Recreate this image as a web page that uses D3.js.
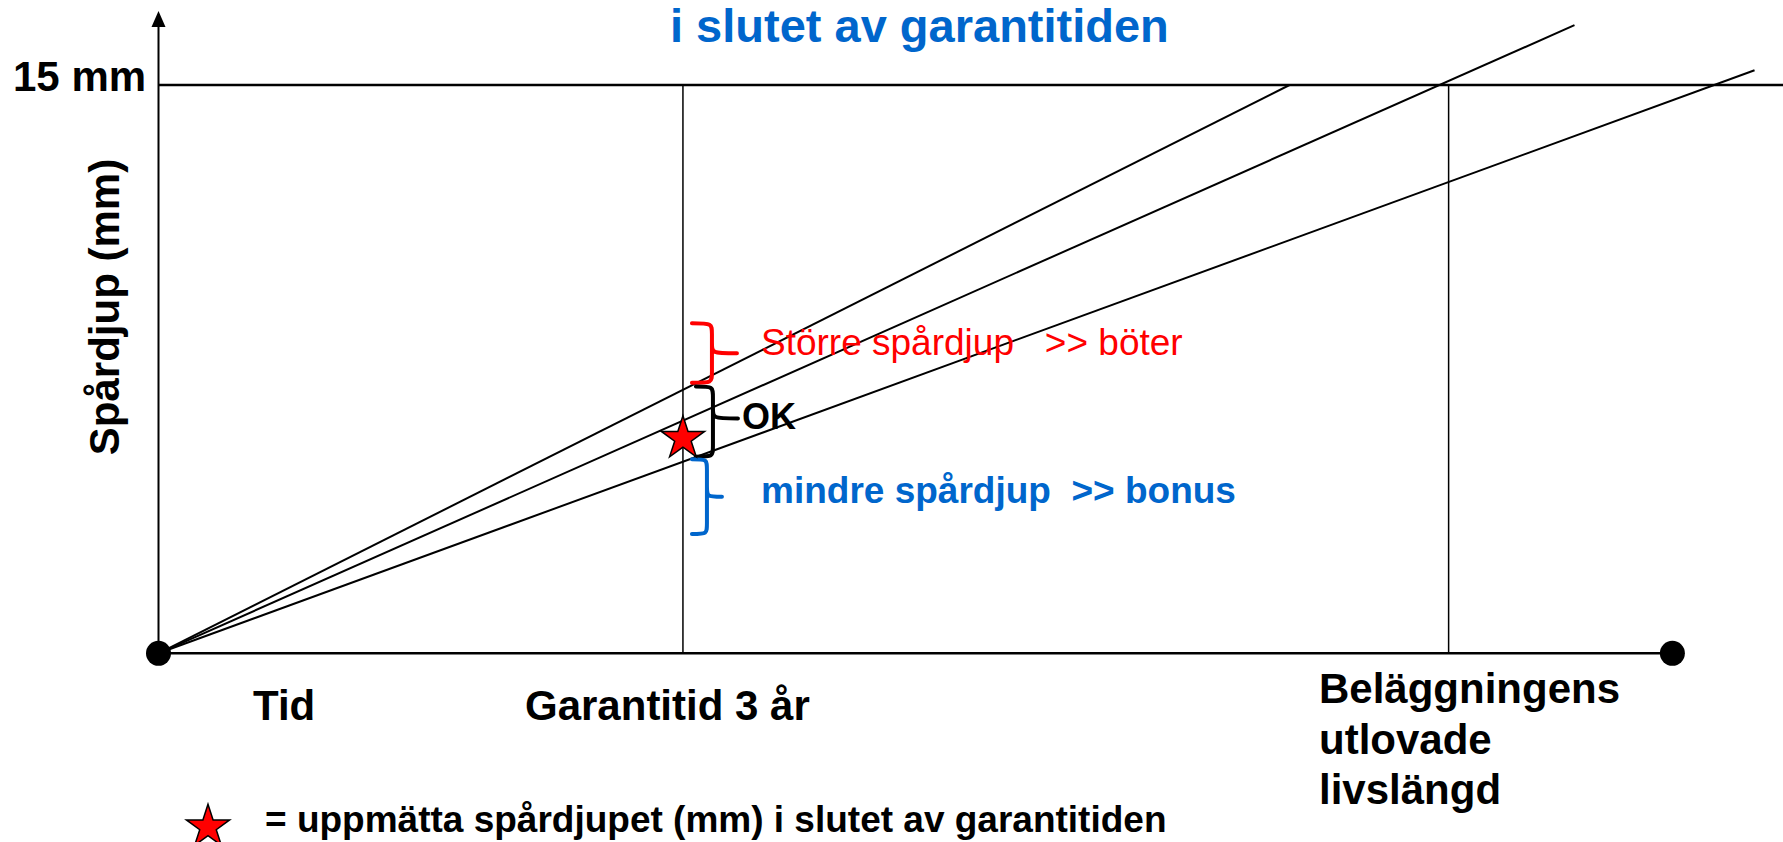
<!DOCTYPE html>
<html>
<head>
<meta charset="utf-8">
<script src="https://cdn.jsdelivr.net/npm/d3@7"></script>
<style>
  body { margin: 0; background: #fff; }
  svg { display: block; font-family: "Liberation Sans", Arial, sans-serif; }
</style>
</head>
<body>
<div id="chart"></div>
<script>
// values (years / mm)
const guaranteeYears = 3;
const lifetimeYears = 7.38;
const axisEndYears = 8.66;
const depthLimit = 15;
const lineEndYears = [6.47, 8.10, 9.13];
const lineEndDepths = [15, 16.58, 15.39];
const measuredDepth = 5.67;

// braces at the end of the guarantee time (mm)
const braceTop = [8.71, 7.04, 5.12];
const braceBottom = [7.14, 5.19, 3.15];
const braceTip = [7.92, 6.20, 4.13];
const braceLabels = ["Större spårdjup   >> böter", "OK", "mindre spårdjup  >> bonus"];

const xLabels = ["Tid", "Garantitid 3 år"];
const lifetimeLabel = ["Beläggningens", "utlovade", "livslängd"];

const red = "#ff0000", blue = "#0066cc";

const width = 1783, height = 842;
const svg = d3.select("#chart").append("svg")
    .attr("width", width)
    .attr("height", height);

const x = d3.scaleLinear().domain([0, 9.35]).range([158.5, 1793]);
const y = d3.scaleLinear().domain([0, 15]).range([653.3, 85]);

// title (second line, first one is cut off)
svg.append("text")
    .attr("x", 670).attr("y", 42)
    .attr("fill", blue)
    .style("font-size", "47px").style("font-weight", "bold")
    .text("i slutet av garantitiden");

// 15 mm limit line
svg.append("line")
    .attr("x1", x(0)).attr("x2", x(9.35))
    .attr("y1", y(depthLimit)).attr("y2", y(depthLimit))
    .attr("stroke", "#000").attr("stroke-width", 2.5);

svg.append("text")
    .attr("x", 13).attr("y", y(depthLimit) + 6)
    .style("font-size", "42px").style("font-weight", "bold")
    .text("15 mm");

// vertical guides: guarantee and promised lifetime
svg.selectAll(".guide")
  .data([guaranteeYears, lifetimeYears])
  .enter().append("line")
    .attr("class", "guide")
    .attr("x1", d => x(d)).attr("x2", d => x(d))
    .attr("y1", y(depthLimit)).attr("y2", y(0))
    .attr("stroke", "#000").attr("stroke-width", 1.5);

// y axis with arrow
const yTop = y(16.95);
svg.append("line")
    .attr("x1", x(0)).attr("x2", x(0))
    .attr("y1", y(0)).attr("y2", yTop + 10)
    .attr("stroke", "#000").attr("stroke-width", 2);
svg.append("path")
    .attr("d", `M${x(0)},${yTop} L${x(0) - 7},${yTop + 16} L${x(0) + 7},${yTop + 16} Z`)
    .attr("fill", "#000");

svg.append("text")
    .attr("transform", "translate(119,307) rotate(-90)")
    .attr("text-anchor", "middle")
    .style("font-size", "42px").style("font-weight", "bold")
    .text("Spårdjup (mm)");

// wear lines from origin
const line = d3.line().x(d => x(d[0])).y(d => y(d[1]));
svg.selectAll(".wear")
  .data(lineEndYears.map((yr, i) => [[0, 0], [yr, lineEndDepths[i]]]))
  .enter().append("path")
    .attr("class", "wear")
    .attr("d", line)
    .attr("fill", "none").attr("stroke", "#000").attr("stroke-width", 2);

// x axis
svg.append("line")
    .attr("x1", x(0)).attr("x2", x(axisEndYears))
    .attr("y1", y(0)).attr("y2", y(0))
    .attr("stroke", "#000").attr("stroke-width", 2.5);
svg.selectAll(".end")
  .data([0, axisEndYears])
  .enter().append("circle")
    .attr("cx", d => x(d)).attr("cy", y(0))
    .attr("r", 12.5).attr("fill", "#000");

// braces
const braceColors = [red, "#000", blue];
const braceOffsets = [[9, 29, 54], [13, 30, 55], [9, 24, 39]];
function bracePath(i) {
  const [l, s, t] = braceOffsets[i].map(o => x(guaranteeYears) + o);
  const y0 = y(braceTop[i]), y1 = y(braceBottom[i]), ym = y(braceTip[i]);
  const r = 11;
  return `M${l},${y0} C${s},${y0} ${s},${y0} ${s},${y0 + r}` +
         ` L${s},${ym - r} C${s},${ym} ${s},${ym} ${t},${ym}` +
         ` M${s},${ym - r} C${s},${ym} ${s},${ym} ${s},${ym + r}` +
         ` L${s},${y1 - r} C${s},${y1} ${s},${y1} ${l},${y1}`;
}
svg.selectAll(".brace")
  .data(braceLabels)
  .enter().append("path")
    .attr("class", "brace")
    .attr("d", (d, i) => bracePath(i))
    .attr("fill", "none")
    .attr("stroke", (d, i) => braceColors[i])
    .attr("stroke-width", 4)
    .attr("stroke-linecap", "round");

const labelX = [761, 742, 761];
const labelY = [355, 429, 503];
svg.selectAll(".brace-label")
  .data(braceLabels)
  .enter().append("text")
    .attr("class", "brace-label")
    .attr("x", (d, i) => labelX[i]).attr("y", (d, i) => labelY[i])
    .attr("fill", (d, i) => braceColors[i])
    .style("font-size", (d, i) => i == 1 ? "36px" : "37px")
    .style("font-weight", (d, i) => i == 0 ? "normal" : "bold")
    .style("white-space", "pre")
    .text(d => d);

// measured value star
const star = d3.symbol().type(d3.symbolStar).size(580);
svg.append("path")
    .attr("d", star)
    .attr("transform", `translate(${x(guaranteeYears)},${y(measuredDepth)})`)
    .attr("fill", red).attr("stroke", "#000").attr("stroke-width", 1.5);

// x labels
svg.selectAll(".xlabel")
  .data(xLabels)
  .enter().append("text")
    .attr("class", "xlabel")
    .attr("x", (d, i) => [253, 525][i]).attr("y", 720)
    .style("font-size", "42px").style("font-weight", "bold")
    .text(d => d);

svg.append("text")
    .attr("x", 1319).attr("y", 703)
    .style("font-size", "42px").style("font-weight", "bold")
  .selectAll("tspan")
  .data(lifetimeLabel)
  .enter().append("tspan")
    .attr("x", 1319)
    .attr("dy", (d, i) => i == 0 ? 0 : 50.5)
    .text(d => d);

// legend
svg.append("path")
    .attr("d", star)
    .attr("transform", "translate(208,827)")
    .attr("fill", red).attr("stroke", "#000").attr("stroke-width", 1.5);
svg.append("text")
    .attr("x", 265).attr("y", 832)
    .style("font-size", "37px").style("font-weight", "bold")
    .text("= uppmätta spårdjupet (mm) i slutet av garantitiden");
</script>
</body>
</html>
